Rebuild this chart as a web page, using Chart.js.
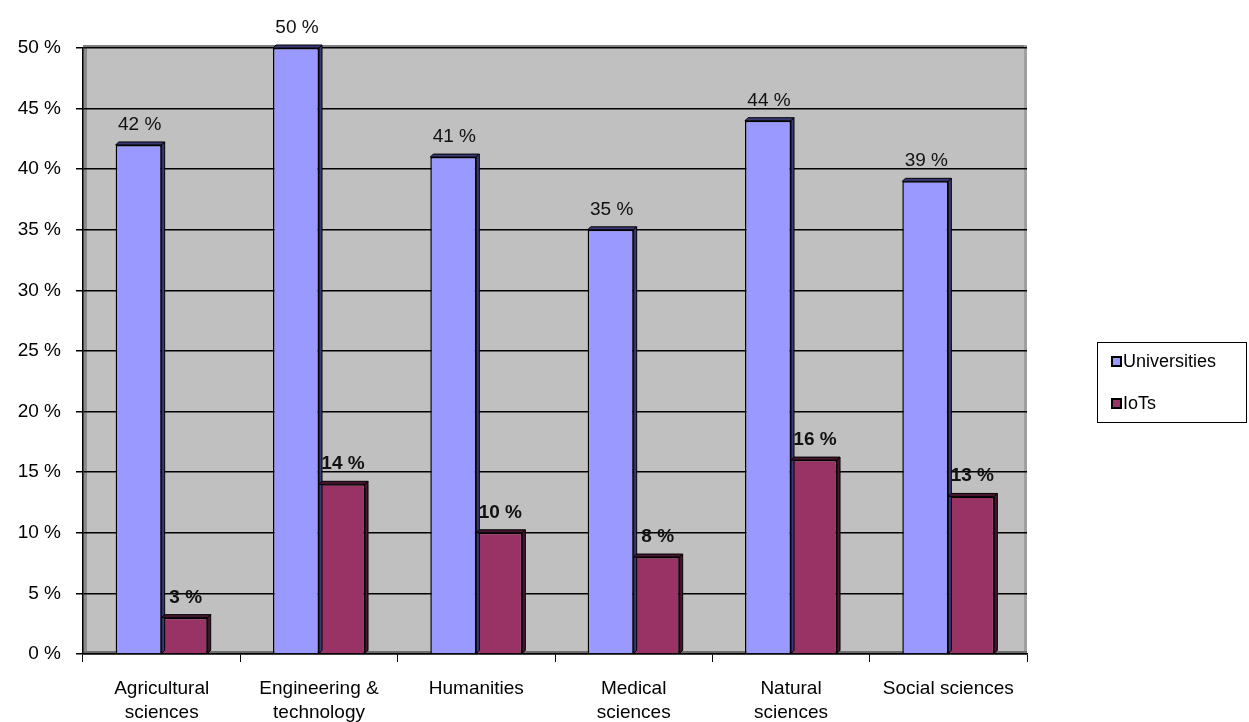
<!DOCTYPE html>
<html>
<head>
<meta charset="utf-8">
<script src="https://cdn.jsdelivr.net/npm/chart.js@4.4.0/dist/chart.umd.min.js"></script>
<style>
html,body{margin:0;padding:0;background:#fff;}
#wrap{width:1249px;height:722px;position:relative;}
</style>
</head>
<body>
<div id="wrap"><canvas id="c" width="1249" height="722"></canvas></div>
<script>
const categories = [["Agricultural","sciences"],["Engineering &","technology"],["Humanities"],["Medical","sciences"],["Natural","sciences"],["Social sciences"]];
const universities = [42, 50, 41, 35, 44, 39];
const iots = [3, 14, 10, 8, 16, 13];
const yTicksMax = 50;
const yStep = 5;

const FONT = "'Liberation Sans', Arial, sans-serif";

const bgPlugin = {
  id: 'bg',
  beforeDraw(chart) {
    const {ctx, chartArea: a} = chart;
    ctx.save();
    ctx.fillStyle = '#C0C0C0';
    ctx.fillRect(a.left, a.top - 3, a.right - a.left, a.bottom - a.top + 3);
    ctx.fillStyle = '#8c8c8c';
    ctx.fillRect(a.left, a.top - 3, 4, a.bottom - a.top + 3);
    ctx.fillStyle = '#808080';
    ctx.fillRect(a.left, a.top - 3, a.right - a.left, 2);
    ctx.fillStyle = '#a0a0a0';
    ctx.fillRect(a.right - 3, a.top - 3, 3, a.bottom - a.top + 3);
    ctx.fillStyle = '#6e6e6e';
    ctx.fillRect(a.left, a.bottom - 3, a.right - a.left, 3);
    ctx.restore();
  }
};

const barPlugin = {
  id: 'bar3d',
  afterDatasetsDraw(chart) {
    const ctx = chart.ctx;
    const d = 3;
    const sides = ['#3a3a78', '#4a1530'];
    ctx.save();
    chart.data.datasets.forEach((ds, i) => {
      const meta = chart.getDatasetMeta(i);
      meta.data.forEach(el => {
        const l = el.x - el.width / 2, r = el.x + el.width / 2, t = el.y, b = el.base;
        ctx.fillStyle = sides[i];
        ctx.strokeStyle = '#000';
        ctx.lineWidth = 1;
        ctx.beginPath();
        ctx.moveTo(l, t); ctx.lineTo(l + d, t - d); ctx.lineTo(r + d, t - d); ctx.lineTo(r, t); ctx.closePath();
        ctx.fill(); ctx.stroke();
        ctx.beginPath();
        ctx.moveTo(r, t); ctx.lineTo(r + d, t - d); ctx.lineTo(r + d, b - d); ctx.lineTo(r, b); ctx.closePath();
        ctx.fill(); ctx.stroke();
      });
    });
    chart.data.datasets.forEach((ds, i) => {
      const meta = chart.getDatasetMeta(i);
      ctx.font = (i === 1 ? 'bold ' : '') + '19px ' + FONT;
      ctx.fillStyle = '#111';
      ctx.textAlign = 'center';
      ctx.textBaseline = 'alphabetic';
      meta.data.forEach((el, j) => {
        ctx.fillText(ds.data[j] + ' %', el.x + 1, el.y - 15);
      });
    });
    ctx.restore();
  }
};

const legendPlugin = {
  id: 'boxLegend',
  afterDraw(chart) {
    const ctx = chart.ctx;
    ctx.save();
    ctx.strokeStyle = '#000';
    ctx.lineWidth = 1;
    ctx.strokeRect(1097.5, 342.5, 149, 80);
    ctx.font = '18px ' + FONT;
    ctx.textBaseline = 'middle';
    ctx.textAlign = 'left';
    const ys = [361, 403];
    chart.data.datasets.forEach((ds, i) => {
      ctx.fillStyle = ds.backgroundColor;
      ctx.fillRect(1112, ys[i] - 4, 9, 9);
      ctx.lineWidth = 2;
      ctx.strokeRect(1112, ys[i] - 4, 9, 9);
      ctx.fillStyle = '#000';
      ctx.fillText(ds.label, 1123, ys[i] + 1);
    });
    ctx.restore();
  }
};

new Chart(document.getElementById('c'), {
  type: 'bar',
  data: {
    labels: categories,
    datasets: [
      {label: 'Universities', data: universities, backgroundColor: '#9999FF', borderColor: '#000', borderWidth: 1.5},
      {label: 'IoTs', data: iots, backgroundColor: '#993366', borderColor: '#000', borderWidth: 1.5}
    ]
  },
  options: {
    responsive: false,
    animation: false,
    devicePixelRatio: 1,
    layout: {padding: {top: 48, right: 222, left: 0, bottom: 0}},
    plugins: {legend: {display: false}, tooltip: {enabled: false}},
    datasets: {bar: {categoryPercentage: 0.585, barPercentage: 1}},
    scales: {
      x: {
        offset: true,
        grid: {display: true, drawOnChartArea: false, offset: true, color: '#000', tickLength: 8, lineWidth: 1},
        border: {color: '#000', width: 1.5},
        ticks: {color: '#000', font: {family: FONT, size: 19, lineHeight: 1.26}, padding: 15, maxRotation: 0, autoSkip: false},
        afterFit(s) { s.height = 68; }
      },
      y: {
        min: 0, max: yTicksMax,
        grid: {color: '#000', lineWidth: 1.5, tickLength: 7},
        border: {color: '#000', width: 1.5},
        ticks: {stepSize: yStep, color: '#000', font: {family: FONT, size: 19}, padding: 15, callback: v => v + ' %'},
        afterFit(s) { s.width = 83; }
      }
    }
  },
  plugins: [bgPlugin, barPlugin, legendPlugin]
});
</script>
</body>
</html>
